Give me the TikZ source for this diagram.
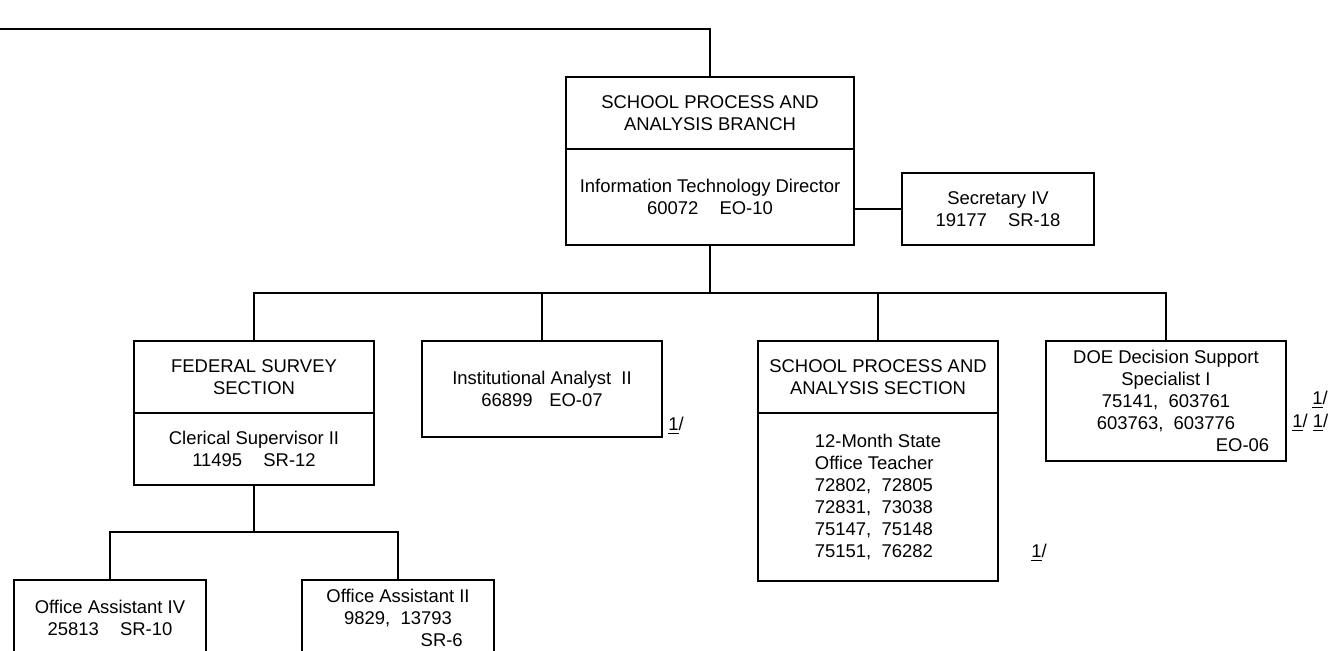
\documentclass[tikz,border=0pt]{standalone}
\usepackage{fontspec}
\setmainfont{Liberation Sans}

\begin{document}
\begin{tikzpicture}[x=0.02cm, y=-0.02cm, every node/.style={font=\fontsize{10.5}{12.5}\selectfont},
    box/.style={draw, very thick, align=center, inner sep=0pt},
    link/.style={very thick},
    fnote/.style={anchor=west, inner sep=0pt}]
    % Page
    \useasboundingbox (0,0) rectangle (1333,650);
    \clip (0,0) rectangle (1333,650);

    % Branch
    \node[box, minimum width=5.76cm, minimum height=1.44cm] (branch) at (710,113) {SCHOOL PROCESS AND\\ANALYSIS BRANCH};
    \node[box, minimum width=5.76cm, minimum height=1.92cm] (director) at (710,197) {Information Technology Director\\60072\hspace{1.15em}EO-10};
    \node[box, minimum width=3.84cm, minimum height=1.44cm] (secretary) at (998,209) {Secretary IV\\19177\hspace{1.15em}SR-18};

    % Sections
    \node[box, minimum width=4.8cm, minimum height=1.44cm] (fedsection) at (254,377) {FEDERAL SURVEY\\SECTION};
    \node[box, minimum width=4.8cm, minimum height=1.44cm] (clerical) at (254,449) {Clerical Supervisor II\\11495\hspace{1.15em}SR-12};
    \node[box, minimum width=4.8cm, minimum height=1.92cm] (analyst) at (542,389) {Institutional Analyst\ \ II\\66899\hspace{0.9em}EO-07};
    \node[box, minimum width=4.8cm, minimum height=1.44cm] (spasection) at (878,377) {SCHOOL PROCESS AND\\ANALYSIS SECTION};
    \node[box, align=left, minimum width=4.8cm, minimum height=3.36cm] (teacher) at (878,497) {12-Month State\\Office Teacher\\72802,\ \ 72805\\72831,\ \ 73038\\75147,\ \ 75148\\75151,\ \ 76282};
    \node[box, minimum width=4.8cm, minimum height=2.4cm] (doe) at (1166,401) {DOE Decision Support\\Specialist I\\75141,\ \ 603761\\603763,\ \ 603776\\\makebox[4.13cm][r]{EO-06}};

    % Federal survey staff
    \node[box, minimum width=3.84cm, minimum height=1.5cm] (oafour) at (110,617.5) {Office Assistant IV\\25813\hspace{1.15em}SR-10};
    \node[box, minimum width=3.84cm, minimum height=1.5cm] (oatwo) at (398,617.5) {Office Assistant II\\9829,\ \ 13793\\\makebox[2.59cm][r]{SR-6}};

    % Footnotes
    \node[fnote] (fnanalyst) at (668,426) {\underline{1}/};
    \node[fnote] (fnteacher) at (1031,553) {\underline{1}/};
    \node[fnote] (fndoeA) at (1312,400) {\underline{1}/};
    \node[fnote] (fndoeB) at (1292,423) {\underline{1}/ \underline{1}/};

    % Lines
    \coordinate (upline) at (0,29);
    \draw[link] (upline) -| (branch.north);
    \draw[link] (secretary.west) -- (secretary.west -| director.east);
    \coordinate (bus) at (710,293);
    \draw[link] (director.south) -- (bus);
    \draw[link] (fedsection.north) |- (bus) -| (doe.north);
    \draw[link] (analyst.north) -- (analyst.north |- bus);
    \draw[link] (spasection.north) -- (spasection.north |- bus);
    \coordinate (subbus) at (254,532);
    \draw[link] (clerical.south) -- (subbus);
    \draw[link] (oafour.north) |- (subbus) -| (oatwo.north);
\end{tikzpicture}
\end{document}
